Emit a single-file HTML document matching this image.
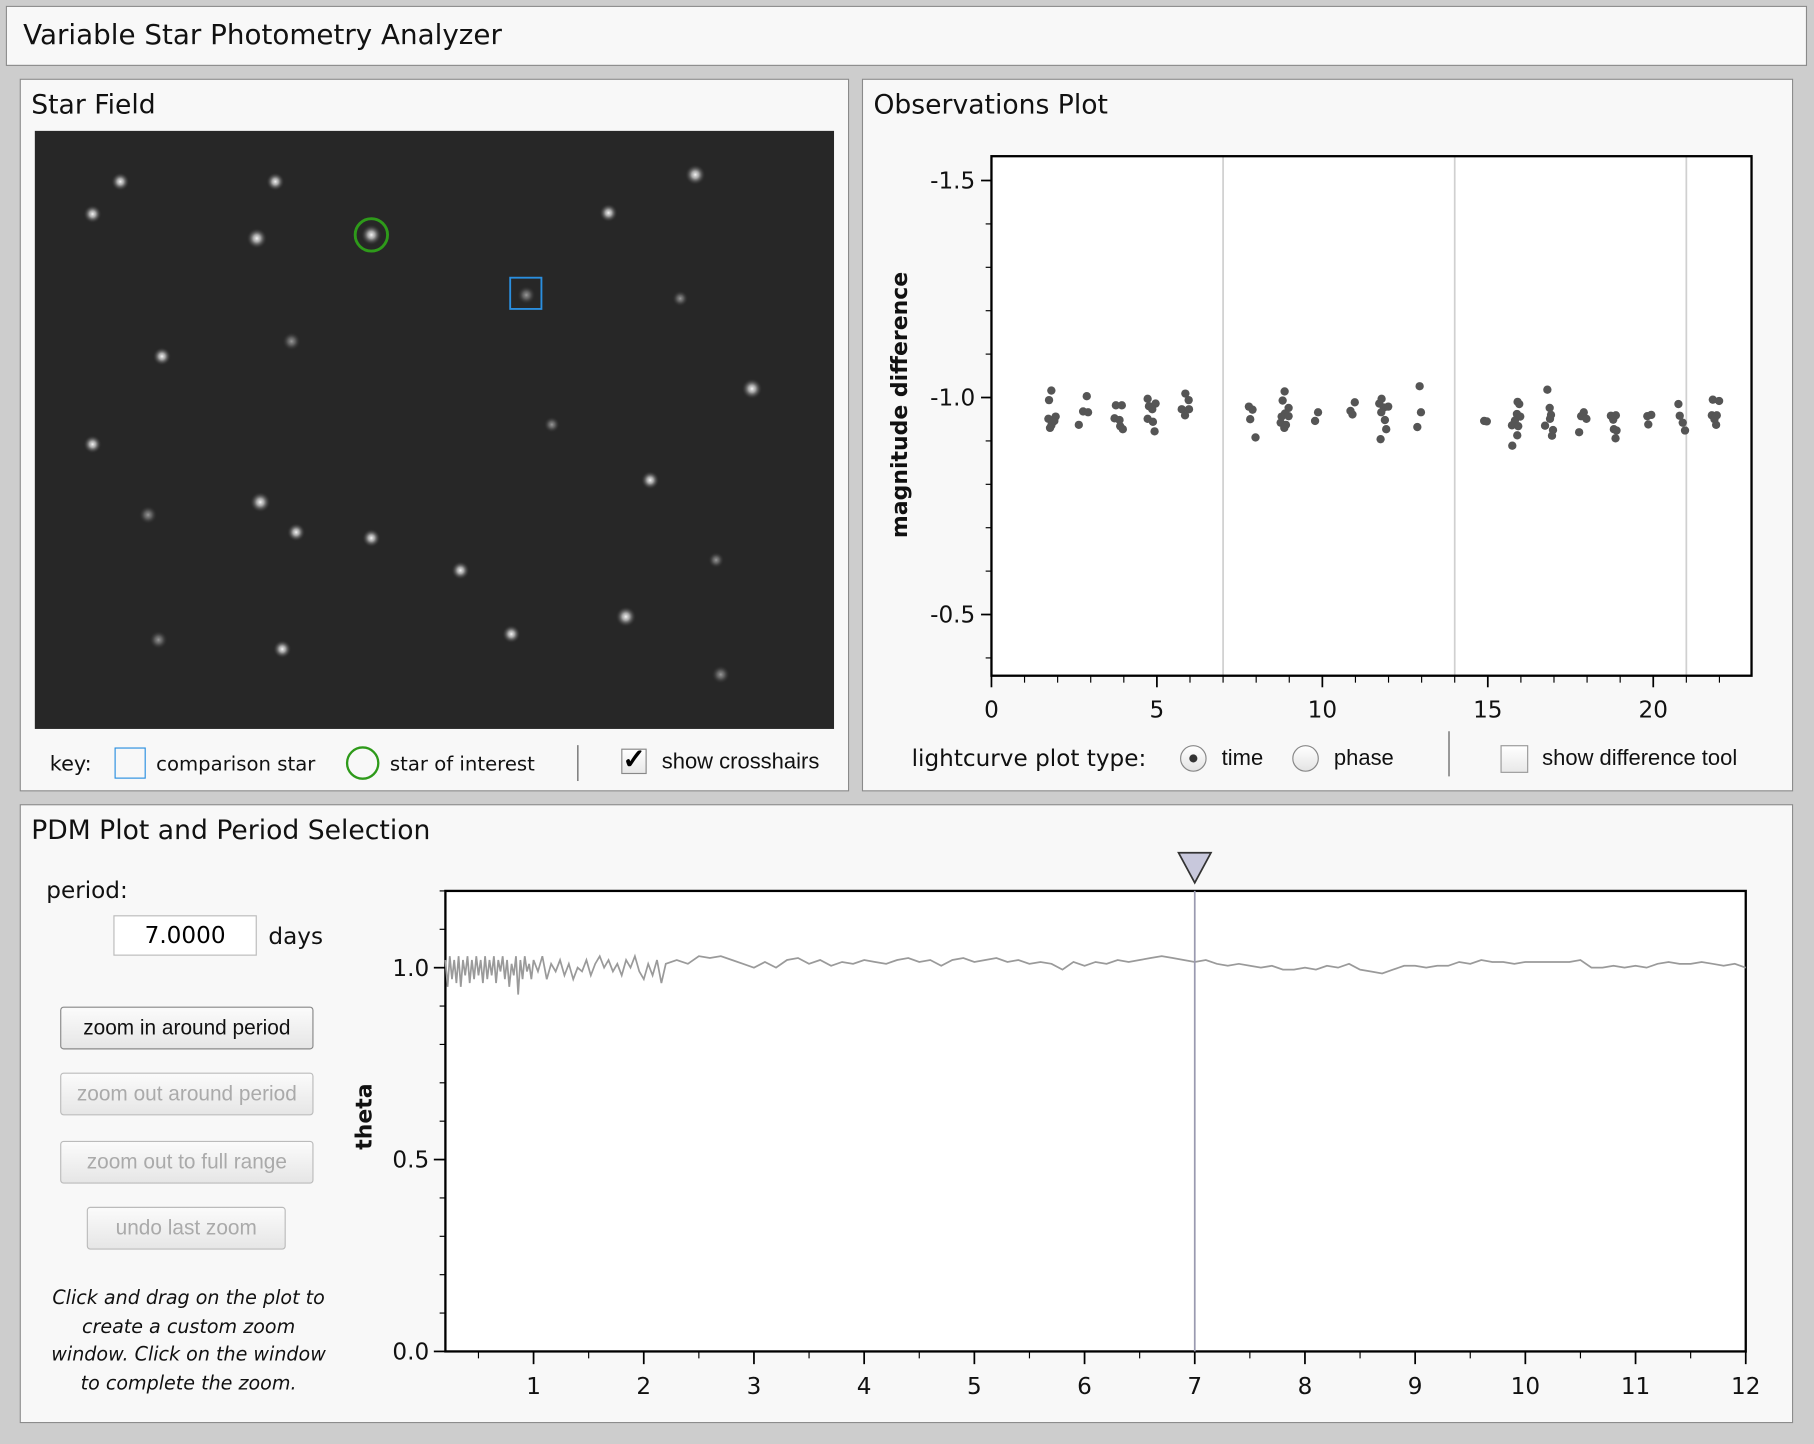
<!DOCTYPE html>
<html><head><meta charset="utf-8">
<style>
html,body{margin:0;padding:0;background:#cdcdcd;}
body{width:1814px;height:1444px;overflow:hidden;font-family:"Liberation Sans",sans-serif;}
#root{position:absolute;left:0;top:0;width:1568px;height:1248px;transform:scale(1.15689,1.15705);transform-origin:0 0;background:#cdcdcd;}
.abs{position:absolute;}
.panel{position:absolute;background:#f8f8f8;border:1px solid #8a8a8a;box-sizing:border-box;}
.ptitle{position:absolute;font-size:23px;color:#111;font-family:"DejaVu Sans",sans-serif;}
.btn{position:absolute;box-sizing:border-box;border:1px solid #bbb;border-radius:3px;background:linear-gradient(#fbfbfb,#e6e6e6);font-size:18px;text-align:center;color:#aaa;white-space:nowrap;overflow:hidden;}
.lbl{position:absolute;font-size:19px;color:#111;white-space:nowrap;}
.dv{font-family:"DejaVu Sans",sans-serif;}
</style></head><body>
<div id="root">
  <div class="panel" style="left:5px;top:5px;width:1557px;height:52px;">
    <div class="ptitle" style="left:14px;top:10px;font-size:24px;">Variable Star Photometry Analyzer</div>
  </div>

  <div class="panel" style="left:17px;top:68px;width:717px;height:616px;">
    <div class="ptitle" style="left:9px;top:9px;">Star Field</div>
  </div>
  <svg class="abs" style="left:30px;top:113px;" width="691" height="517">
    <defs>
      <radialGradient id="sg"><stop offset="0" stop-color="#f4f4f4"/><stop offset="0.35" stop-color="#bbb" stop-opacity="0.85"/><stop offset="1" stop-color="#262626" stop-opacity="0"/></radialGradient>
      <radialGradient id="sd"><stop offset="0" stop-color="#9a9a9a"/><stop offset="0.4" stop-color="#777" stop-opacity="0.7"/><stop offset="1" stop-color="#262626" stop-opacity="0"/></radialGradient>
    </defs>
    <rect width="691" height="517" fill="#272727"/>
    <g id="stars"></g>
    <circle cx="291" cy="90" r="14" fill="none" stroke="#2e9a1a" stroke-width="2.5"/>
    <rect x="411" y="127" width="27" height="27" fill="none" stroke="#2a8fe0" stroke-width="1.6"/>
  </svg>
  <div class="lbl dv" style="left:43px;top:650px;font-size:18px;">key:</div>
  <div class="abs" style="left:99px;top:646px;width:27px;height:27px;border:1.5px solid #2a8fe0;box-sizing:border-box;"></div>
  <div class="lbl dv" style="left:135px;top:651px;font-size:17px;">comparison star</div>
  <div class="abs" style="left:299px;top:645px;width:29px;height:29px;border:2px solid #2e9a1a;border-radius:50%;box-sizing:border-box;"></div>
  <div class="lbl dv" style="left:337px;top:651px;font-size:17px;">star of interest</div>
  <div class="abs" style="left:499px;top:644px;width:1px;height:31px;background:#555;"></div>
  <div class="abs" style="left:537px;top:647px;width:22px;height:22px;border:1px solid #888;background:linear-gradient(#fff,#e8e8e8);box-sizing:border-box;font-size:24px;line-height:18px;text-align:center;font-weight:bold;">✓</div>
  <div class="lbl" style="left:572px;top:648px;">show crosshairs</div>

  <div class="panel" style="left:745px;top:68px;width:805px;height:616px;">
    <div class="ptitle" style="left:9px;top:9px;">Observations Plot</div>
  </div>
  <svg class="abs" style="left:745px;top:100px;" width="805" height="530" id="obs"></svg>
  <div class="lbl dv" style="left:788px;top:643px;font-size:20px;">lightcurve plot type:</div>
  <div class="abs" style="left:1020px;top:644px;width:23px;height:23px;border:1px solid #888;border-radius:50%;background:linear-gradient(#fff,#e4e4e4);box-sizing:border-box;"><div style="position:absolute;left:7px;top:7px;width:7px;height:7px;border-radius:50%;background:#333;"></div></div>
  <div class="lbl" style="left:1056px;top:645px;">time</div>
  <div class="abs" style="left:1117px;top:644px;width:23px;height:23px;border:1px solid #888;border-radius:50%;background:linear-gradient(#fff,#e4e4e4);box-sizing:border-box;"></div>
  <div class="lbl" style="left:1153px;top:645px;">phase</div>
  <div class="abs" style="left:1252px;top:632px;width:1px;height:39px;background:#555;"></div>
  <div class="abs" style="left:1297px;top:644px;width:24px;height:24px;border:1px solid #999;background:linear-gradient(#fff,#e8e8e8);box-sizing:border-box;"></div>
  <div class="lbl" style="left:1333px;top:645px;">show difference tool</div>

  <div class="panel" style="left:17px;top:695px;width:1533px;height:535px;">
    <div class="ptitle" style="left:9px;top:9px;">PDM Plot and Period Selection</div>
  </div>
  <div class="lbl dv" style="left:40px;top:757px;font-size:20px;">period:</div>
  <div class="abs dv" style="left:98px;top:791px;width:124px;height:35px;border:1px solid #bbb;background:#fff;box-sizing:border-box;font-size:20px;text-align:center;line-height:33px;">7.0000</div>
  <div class="lbl dv" style="left:232px;top:797px;font-size:20px;">days</div>
  <div class="btn" style="left:52px;top:870px;width:219px;height:37px;line-height:35px;color:#111;border-color:#888;">zoom in around period</div>
  <div class="btn" style="left:52px;top:927px;width:219px;height:37px;line-height:35px;">zoom out around period</div>
  <div class="btn" style="left:52px;top:986px;width:219px;height:37px;line-height:35px;">zoom out to full range</div>
  <div class="btn" style="left:75px;top:1043px;width:172px;height:37px;line-height:35px;">undo last zoom</div>
  <div class="abs dv" style="left:34px;top:1110px;width:258px;font-size:16.5px;font-style:italic;text-align:center;line-height:24.5px;color:#111;">Click and drag on the plot to<br>create a custom zoom<br>window. Click on the window<br>to complete the zoom.</div>
  <svg class="abs" style="left:290px;top:725px;" width="1255" height="500" id="pdm"></svg>
</div>

<script>
const starX = [74,208,571,50,192,291,496,425,558,222,110,620,50,447,532,98,195,226,291,368,589,511,412,107,214,593];
const starY = [44,44,38,72,93,90,71,142,145,182,195,223,271,254,302,332,321,347,352,380,371,420,435,440,448,470];
const starR = [8,8,9,8,9,9,8,8,7,8,8,9,8,7,8,8,9,8,8,8,7,9,8,8,8,8];
const starDim = [0,0,0,0,0,0,0,1,1,1,0,0,0,1,0,1,0,0,0,0,1,0,0,1,0,1];
const SVGNS = "http://www.w3.org/2000/svg";
const stars = document.getElementById('stars');
for (let i = 0; i < starX.length; i++) {
  const c = document.createElementNS(SVGNS, 'circle');
  c.setAttribute('cx', starX[i]); c.setAttribute('cy', starY[i]); c.setAttribute('r', starR[i]);
  c.setAttribute('fill', starDim[i] ? 'url(#sd)' : 'url(#sg)');
  
  
  stars.appendChild(c);
}

const obsTime = [1.81,1.74,1.72,1.81,1.90,1.94,1.86,1.77,2.88,2.77,2.64,2.92,3.76,3.94,3.72,3.87,3.89,3.97,4.72,4.76,4.96,4.86,4.72,4.88,4.93,5.86,5.96,5.75,5.97,5.85,7.78,7.89,7.82,7.98,8.86,8.80,8.98,8.87,8.77,8.98,8.74,8.90,8.85,9.87,9.78,10.98,10.85,10.91,11.79,11.72,11.86,11.99,11.78,11.89,11.93,11.76,12.94,12.98,12.87,14.89,14.97,15.90,15.95,15.88,15.82,15.98,15.73,15.92,15.89,15.74,16.80,16.87,16.91,16.88,16.73,16.97,16.94,17.82,17.90,17.98,17.76,18.72,18.87,18.79,18.81,18.89,18.86,19.82,19.94,19.85,20.76,20.80,20.89,20.96,21.80,21.99,21.77,21.92,21.85,21.90];
const obsMag = [-1.016,-0.994,-0.951,-0.936,-0.946,-0.956,-0.944,-0.930,-1.003,-0.968,-0.937,-0.966,-0.982,-0.982,-0.952,-0.948,-0.934,-0.927,-0.997,-0.980,-0.986,-0.973,-0.951,-0.944,-0.922,-1.009,-0.994,-0.973,-0.973,-0.959,-0.979,-0.972,-0.950,-0.908,-1.014,-0.993,-0.976,-0.963,-0.956,-0.957,-0.942,-0.937,-0.930,-0.966,-0.946,-0.989,-0.969,-0.961,-0.997,-0.986,-0.977,-0.979,-0.966,-0.948,-0.927,-0.904,-1.026,-0.966,-0.932,-0.946,-0.945,-0.990,-0.985,-0.962,-0.947,-0.956,-0.936,-0.934,-0.913,-0.889,-1.018,-0.976,-0.960,-0.951,-0.935,-0.925,-0.912,-0.957,-0.966,-0.951,-0.920,-0.958,-0.959,-0.949,-0.927,-0.924,-0.906,-0.957,-0.960,-0.938,-0.985,-0.958,-0.942,-0.924,-0.995,-0.992,-0.959,-0.959,-0.950,-0.937];
const obsXTicks = [0,5,10,15,20];
const obsYTicks = [-1.5,-1.0,-0.5];
const obsGrid = [7,14,21];

const pdmPeriod = [0.20,0.22,0.24,0.26,0.28,0.30,0.32,0.34,0.36,0.38,0.40,0.42,0.44,0.46,0.48,0.50,0.52,0.54,0.56,0.58,0.60,0.62,0.64,0.66,0.68,0.70,0.72,0.74,0.76,0.78,0.80,0.82,0.84,0.86,0.88,0.90,0.92,0.94,0.96,0.98,1.00,1.04,1.08,1.12,1.16,1.20,1.24,1.28,1.32,1.36,1.40,1.44,1.48,1.52,1.56,1.60,1.64,1.68,1.72,1.76,1.80,1.84,1.88,1.92,1.96,2.00,2.04,2.08,2.12,2.16,2.20,
2.3,2.4,2.5,2.6,2.7,2.8,2.9,3.0,3.1,3.2,3.3,3.4,3.5,3.6,3.7,3.8,3.9,4.0,4.1,4.2,4.3,4.4,4.5,4.6,4.7,4.8,4.9,5.0,5.1,5.2,5.3,5.4,5.5,5.6,5.7,5.8,5.9,6.0,6.1,6.2,6.3,6.4,6.5,6.6,6.7,6.8,6.9,7.0,7.1,7.2,7.3,7.4,7.5,7.6,7.7,7.8,7.9,8.0,8.1,8.2,8.3,8.4,8.5,8.6,8.7,8.8,8.9,9.0,9.1,9.2,9.3,9.4,9.5,9.6,9.7,9.8,9.9,10.0,10.1,10.2,10.3,10.4,10.5,10.6,10.7,10.8,10.9,11.0,11.1,11.2,11.3,11.4,11.5,11.6,11.7,11.8,11.9,12.0];
const pdmTheta = [1.02,0.95,1.03,0.97,1.02,0.96,1.03,0.95,1.02,0.98,1.03,0.96,1.02,0.97,1.03,0.98,1.02,0.96,1.03,0.97,1.02,0.98,1.03,0.96,1.02,0.99,1.03,0.97,1.02,0.95,1.01,0.98,1.03,0.93,1.02,0.97,1.03,0.99,1.01,0.97,1.02,
0.99,1.03,0.97,1.01,0.99,1.02,0.98,1.01,0.97,1.00,0.99,1.02,0.98,1.01,1.03,1.00,1.02,0.99,1.01,0.98,1.02,1.00,1.03,0.99,0.97,1.01,0.98,1.02,0.96,1.01,
1.02,1.01,1.03,1.025,1.03,1.02,1.01,1.0,1.015,1.0,1.02,1.025,1.01,1.02,1.005,1.015,1.01,1.02,1.015,1.01,1.02,1.025,1.015,1.02,1.005,1.02,1.025,1.015,1.02,1.025,1.015,1.02,1.01,1.015,1.01,0.995,1.015,1.005,1.015,1.01,1.02,1.015,1.02,1.025,1.03,1.025,1.02,1.015,1.02,1.01,1.005,1.01,1.005,1.0,1.005,0.995,0.995,1.0,0.995,1.005,1.0,1.01,0.995,0.99,0.985,0.995,1.005,1.005,1.0,1.005,1.005,1.015,1.01,1.02,1.015,1.015,1.01,1.015,1.015,1.015,1.015,1.015,1.02,1.0,1.0,1.005,1.0,1.005,1.0,1.01,1.015,1.01,1.01,1.015,1.01,1.005,1.01,1.0];
const pdmXTicks = [1,2,3,4,5,6,7,8,9,10,11,12];
const pdmYTicks = [0.0,0.5,1.0];
const selectedPeriod = [7.0];

function mk(parent, tag, attrs, text) {
  const e = document.createElementNS(SVGNS, tag);
  for (const k in attrs) e.setAttribute(k, attrs[k]);
  if (text !== undefined) e.textContent = text;
  parent.appendChild(e);
  return e;
}
const DV = '"DejaVu Sans", sans-serif';

(function(){
  const svg = document.getElementById('obs');
  const L = 112, T = 35, W = 657, H = 449;
  const xMin = 0, xMax = 22.97, yMin = -1.556, yMax = -0.359;
  const xs = v => L + (v - xMin) / (xMax - xMin) * W;
  const ys = v => T + (v - yMin) / (yMax - yMin) * H;
  mk(svg, 'rect', {x:L, y:T, width:W, height:H, fill:'#fff'});
  for (const g of obsGrid) {
    const l = mk(svg, 'line', {x1:xs(g), x2:xs(g), y1:T, y2:T+H, stroke:'#d0d0d0', 'stroke-width':1.5});
    
    
  }
  mk(svg, 'rect', {x:L, y:T, width:W, height:H, fill:'none', stroke:'#000', 'stroke-width':2});
  for (let v = 1; v <= 22; v++) mk(svg, 'line', {x1:xs(v), x2:xs(v), y1:T+H, y2:T+H+6, stroke:'#000', 'stroke-width':1});
  for (const v of obsXTicks) {
    mk(svg, 'line', {x1:xs(v), x2:xs(v), y1:T+H, y2:T+H+10, stroke:'#000', 'stroke-width':1.5});
    const t = mk(svg, 'text', {x:xs(v), y:T+H+36, 'text-anchor':'middle', 'font-size':20, 'font-family':DV, fill:'#111'}, String(v));
    
    
  }
  for (let k = -15; k <= -4; k++) { const v = k / 10; mk(svg, 'line', {x1:L-5, x2:L, y1:ys(v), y2:ys(v), stroke:'#000', 'stroke-width':1}); }
  for (const v of obsYTicks) {
    mk(svg, 'line', {x1:L-9, x2:L, y1:ys(v), y2:ys(v), stroke:'#000', 'stroke-width':1.5});
    const t = mk(svg, 'text', {x:L-14, y:ys(v)+7, 'text-anchor':'end', 'font-size':20, 'font-family':DV, fill:'#111'}, v.toFixed(1));
    
    
  }
  const yl = mk(svg, 'text', {x:0, y:0, transform:'translate(39,250) rotate(-90)', 'text-anchor':'middle', 'font-size':19, 'font-weight':'bold', 'font-family':DV, fill:'#111'}, 'magnitude difference');
  
  
  for (let i = 0; i < obsTime.length; i++) {
    const c = mk(svg, 'circle', {cx:xs(obsTime[i]), cy:ys(obsMag[i]), r:3.6, fill:'#555'});
    
    
  }
})();

(function(){
  const svg = document.getElementById('pdm');
  const L = 95, T = 45, W = 1124, H = 398;
  const xMin = 0.2, xMax = 12, yMin = 0, yMax = 1.2;
  const xs = v => L + (v - xMin) / (xMax - xMin) * W;
  const ys = v => T + H - (v - yMin) / (yMax - yMin) * H;
  mk(svg, 'rect', {x:L, y:T, width:W, height:H, fill:'#fff', stroke:'#000', 'stroke-width':2});
  for (let k = 1; k <= 23; k++) { const v = k / 2; mk(svg, 'line', {x1:xs(v), x2:xs(v), y1:T+H, y2:T+H+6, stroke:'#000', 'stroke-width':1}); }
  for (const v of pdmXTicks) {
    mk(svg, 'line', {x1:xs(v), x2:xs(v), y1:T+H, y2:T+H+11, stroke:'#000', 'stroke-width':1.5});
    const t = mk(svg, 'text', {x:xs(v), y:T+H+37, 'text-anchor':'middle', 'font-size':20, 'font-family':DV, fill:'#111'}, String(v));
    
    
  }
  for (let k = 0; k <= 12; k++) { const v = k / 10; mk(svg, 'line', {x1:L-5, x2:L, y1:ys(v), y2:ys(v), stroke:'#000', 'stroke-width':1}); }
  for (const v of pdmYTicks) {
    mk(svg, 'line', {x1:L-10, x2:L, y1:ys(v), y2:ys(v), stroke:'#000', 'stroke-width':1.5});
    const t = mk(svg, 'text', {x:L-14, y:ys(v)+7, 'text-anchor':'end', 'font-size':20, 'font-family':DV, fill:'#111'}, v.toFixed(1));
    
    
  }
  const yl = mk(svg, 'text', {x:0, y:0, transform:'translate(31,240) rotate(-90)', 'text-anchor':'middle', 'font-size':19, 'font-weight':'bold', 'font-family':DV, fill:'#111'}, 'theta');
  
  
  let d = '';
  for (let i = 0; i < pdmPeriod.length; i++) d += (i ? 'L' : 'M') + xs(pdmPeriod[i]).toFixed(1) + ' ' + ys(pdmTheta[i]).toFixed(1);
  const p = mk(svg, 'path', {d:d, fill:'none', stroke:'#9a9a9a', 'stroke-width':1.5});
  
  
  const px = xs(selectedPeriod[0]);
  const vl = mk(svg, 'line', {x1:px, x2:px, y1:T, y2:T+H, stroke:'#9a9ab0', 'stroke-width':1.5});
  
  
  const tri = mk(svg, 'polygon', {points:(px-14)+','+(T-33)+' '+(px+14)+','+(T-33)+' '+px+','+(T-7), fill:'#c8c8dc', stroke:'#333', 'stroke-width':1.5});
  
  
})();
</script>
</body></html>
